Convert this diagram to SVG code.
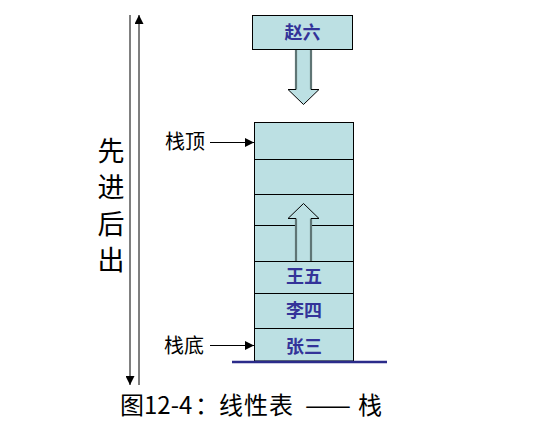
<svg xmlns="http://www.w3.org/2000/svg" width="543" height="423" viewBox="0 0 543 423">
<style>
.cell{fill:#bce0e3;stroke:#000;stroke-width:1}
.name{font-family:"Noto Sans CJK SC","Noto Sans",sans-serif;font-size:18px;font-weight:bold;fill:#333399;text-anchor:middle}
.lbl{font-family:"Noto Sans CJK SC",serif;font-size:20px;fill:#000}
.big{font-family:"Noto Sans CJK SC",serif;font-size:27px;fill:#000;text-anchor:middle}
.cap{font-family:"Noto Sans CJK SC","Noto Sans",sans-serif;font-size:24px;fill:#000}
.ln{stroke:#000;stroke-width:1;fill:none}
</style>
<defs>
<marker id="ah" viewBox="0 0 10 10" refX="10" refY="5" markerWidth="9" markerHeight="9" markerUnits="userSpaceOnUse" orient="auto">
<path d="M0,0 L10,5 L0,10 z" fill="#000"/>
</marker>
</defs>
<rect width="543" height="423" fill="#fff"/>
<g id="node-zhaoliu">
<rect class="cell" x="252.5" y="15.5" width="100" height="34"/>
<text class="name" x="302.5" y="39">赵六</text>
</g>
<g id="node-stack">
<rect class="cell" x="254.5" y="122.5" width="99" height="238.5"/>
<line class="ln" x1="254.5" y1="159.5" x2="353.5" y2="159.5"/>
<line class="ln" x1="254.5" y1="194.5" x2="353.5" y2="194.5"/>
<line class="ln" x1="254.5" y1="225.5" x2="353.5" y2="225.5"/>
<line class="ln" x1="254.5" y1="261.5" x2="353.5" y2="261.5"/>
<line class="ln" x1="254.5" y1="293.5" x2="353.5" y2="293.5"/>
<line class="ln" x1="254.5" y1="328.5" x2="353.5" y2="328.5"/>
</g>
<g id="node-wangwu"><text class="name" x="304" y="283">王五</text></g>
<g id="node-lisi"><text class="name" x="304" y="317">李四</text></g>
<g id="node-zhangsan"><text class="name" x="304" y="353">张三</text></g>
<g id="base"><line x1="232" y1="362" x2="387" y2="362" stroke="#2b2b8a" stroke-width="2.5"/></g>
<g id="node-push-arrow">
<path d="M296,50 V89.5 H288 L303.5,104.5 L319,89.5 H311 V50 Z" fill="#bce0e3" stroke="none"/>
<path d="M296,50 V89.5 M311,50 V89.5" stroke="#5f7575" stroke-width="2.2" fill="none"/>
<path d="M296,89.5 H288 L303.5,104.5 L319,89.5 H311" stroke="#000" stroke-width="1" fill="none"/>
</g>
<g id="node-up-arrow">
<path d="M296,261 V218.5 H288 L303.5,203.5 L319,218.5 H311 V261 Z" fill="#bce0e3" stroke="none"/>
<path d="M296,261 V218.5 M311,261 V218.5" stroke="#5f7575" stroke-width="2.2" fill="none"/>
<path d="M296,218.5 H288 L303.5,203.5 L319,218.5 H311" stroke="#000" stroke-width="1" fill="none"/>
</g>
<g id="node-top-label"><text class="lbl" x="165" y="149">栈顶</text></g>
<g id="node-bottom-label"><text class="lbl" x="164" y="353">栈底</text></g>
<g id="node-lifo">
<text class="big" x="111" y="161">先</text>
<text class="big" x="111" y="197">进</text>
<text class="big" x="111" y="234">后</text>
<text class="big" x="111" y="270">出</text>
</g>
<g id="connectors">
<line class="ln" x1="210" y1="142.5" x2="254" y2="142.5" marker-end="url(#ah)"/>
<line class="ln" x1="210" y1="345.5" x2="254" y2="345.5" marker-end="url(#ah)"/>
<line class="ln" x1="130" y1="15" x2="130" y2="385" marker-end="url(#ah)"/>
<line class="ln" x1="139" y1="385" x2="139" y2="15" marker-end="url(#ah)"/>
</g>
<g id="caption">
<text class="cap" x="120" y="414">图12-4</text>
<text class="cap" x="195" y="414">：</text>
<text class="cap" x="219 244 269" y="414">线性表</text>
<text class="cap" x="305" y="414" textLength="46" lengthAdjust="spacingAndGlyphs">——</text>
<text class="cap" x="358" y="414">栈</text>
</g>
</svg>
